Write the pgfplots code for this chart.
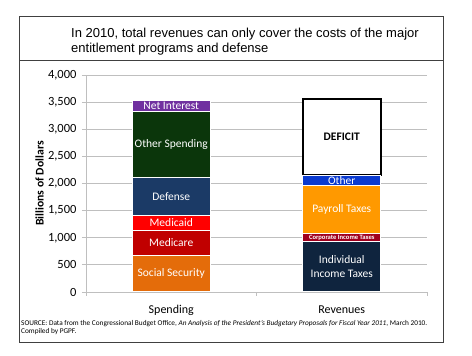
\documentclass[border=0pt]{standalone}
\usepackage{pgfplots}
\pgfplotsset{compat=1.18}
\usepackage{fontspec}
\setmainfont{Carlito}
\newfontfamily\arial{Liberation Sans}
\definecolor{cSS}{HTML}{E46C0A}
\definecolor{cMedicare}{HTML}{C00000}
\definecolor{cMedicaid}{HTML}{FF0000}
\definecolor{cDefense}{HTML}{1B3A66}
\definecolor{cOther}{HTML}{0B360B}
\definecolor{cNI}{HTML}{7030A0}
\definecolor{cIndiv}{HTML}{0F243E}
\definecolor{cCorp}{HTML}{A0001E}
\definecolor{cPayroll}{HTML}{FF9900}
\definecolor{cOtherRev}{HTML}{0A3AD0}
\definecolor{frame}{HTML}{404040}
\definecolor{gridc}{HTML}{BFBFBF}
\pgfplotsset{base/.style={
  width=341pt, height=217pt, scale only axis,
  at={(86pt,64pt)}, anchor=south west,
  xmin=-0.5, xmax=1.5, ymin=0, ymax=4000,
  ybar stacked, bar width=78pt,
}}
\tikzset{lab/.style={text=white, font=\fontsize{11.5}{12.5}\selectfont, inner sep=0pt, align=center}}
\begin{document}
\begin{tikzpicture}
\path (0pt,0pt) rectangle (472pt,356pt);
\draw[frame, line width=0.9pt] (19pt,14pt) rectangle (443pt,340pt);
\draw[frame, line width=0.9pt] (19pt,296pt) -- (443pt,296pt);
\node[anchor=north west, inner sep=0pt, align=left, font=\arial\fontsize{13}{15}\selectfont] at (71pt,328pt)
  {In 2010, total revenues can only cover the costs of the major\\entitlement programs and defense};
\node[anchor=north west, inner sep=0pt, align=left, font=\fontsize{7.3}{8.2}\selectfont] at (21pt,36pt)
  {SOURCE: Data from the Congressional Budget Office, \textit{An Analysis of the President's Budgetary Proposals for Fiscal Year 2011}, March 2010.\\Compiled by PGPF.};

\begin{axis}[base,
  axis lines*=left,
  axis line style={gridc, line width=0.8pt},
  ytick={0,500,...,4000},
  ymajorgrids, grid style={gridc, line width=0.8pt},
  yticklabel style={font=\fontsize{12.5}{14}\selectfont, xshift=-2pt},
  /pgf/number format/assume math mode=true,
  /pgf/number format/1000 sep={,},
  tick align=outside,
  major tick length=4pt,
  tick style={gridc, line width=0.8pt},
  xtick={-0.5,0.5,1.5}, xticklabels={},
  extra x ticks={0,1}, extra x tick labels={Spending,Revenues},
  extra x tick style={major tick length=0pt, xticklabel style={font=\fontsize{12}{14}\selectfont, yshift=-10pt}},
  ylabel={Billions of Dollars},
  every axis y label/.style={at={(axis description cs:-0.136,0.5)}, rotate=90, anchor=center, font=\bfseries\fontsize{11.7}{13}\selectfont},
]
\addplot[fill=cSS, draw=white, line width=1pt] coordinates {(0,680)};
\addplot[fill=cMedicare, draw=white, line width=1pt] coordinates {(0,460)};
\addplot[fill=cMedicaid, draw=white, line width=1pt] coordinates {(0,275)};
\addplot[fill=cDefense, draw=white, line width=1pt] coordinates {(0,700)};
\addplot[fill=cOther, draw=white, line width=1pt] coordinates {(0,1215)};
\addplot[fill=cNI, draw=white, line width=1pt] coordinates {(0,200)};
\coordinate (pSS) at (axis cs:0,340);
\coordinate (pMedicare) at (axis cs:0,910);
\coordinate (pMedicaid) at (axis cs:0,1277);
\coordinate (pDefense) at (axis cs:0,1765);
\coordinate (pOther) at (axis cs:0,2722);
\coordinate (pNI) at (axis cs:0,3430);
\end{axis}

\begin{axis}[base, hide axis]
\addplot[fill=cIndiv, draw=white, line width=1pt] coordinates {(1,935)};
\addplot[fill=cCorp, draw=white, line width=1pt] coordinates {(1,145)};
\addplot[fill=cPayroll, draw=white, line width=1pt] coordinates {(1,890)};
\addplot[fill=cOtherRev, draw=white, line width=1pt] coordinates {(1,185)};
\addplot[fill=white, draw=black, line width=1.6pt] coordinates {(1,1400)};
\coordinate (pIndiv) at (axis cs:1,467);
\coordinate (pCorp) at (axis cs:1,1007);
\coordinate (pPayroll) at (axis cs:1,1525);
\coordinate (pOtherRev) at (axis cs:1,2062);
\coordinate (pDeficit) at (axis cs:1,2855);
\end{axis}

\node[lab] at (pSS) {Social Security};
\node[lab] at (pMedicare) {Medicare};
\node[lab] at (pMedicaid) {Medicaid};
\node[lab] at (pDefense) {Defense};
\node[lab] at (pOther) {Other Spending};
\node[lab] at (pNI) {Net Interest};
\node[lab, font=\fontsize{11.5}{13.5}\selectfont] at (pIndiv) {Individual\\Income Taxes};
\node[lab, font=\bfseries\fontsize{6.6}{7}\selectfont] at (pCorp) {Corporate Income Taxes};
\node[lab] at (pPayroll) {Payroll Taxes};
\node[lab] at (pOtherRev) {Other};
\node[lab, text=black, font=\bfseries\fontsize{11.5}{12.5}\selectfont] at (pDeficit) {DEFICIT};
\end{tikzpicture}
\end{document}
